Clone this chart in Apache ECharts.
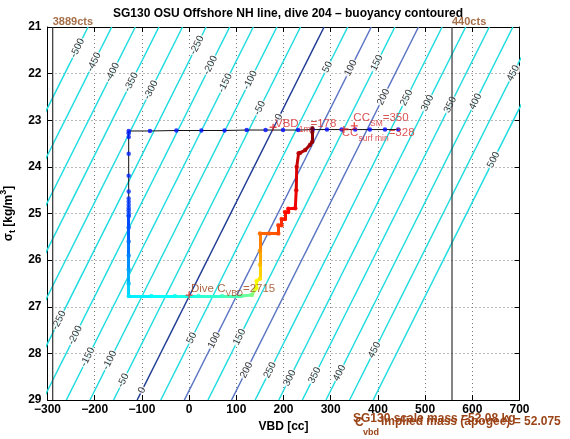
<!DOCTYPE html>
<html><head><meta charset="utf-8">
<script src="https://cdn.jsdelivr.net/npm/echarts@6/dist/echarts.min.js"></script>
<style>html,body{margin:0;padding:0;background:#fff}#c{width:570px;height:439px}</style>
</head><body><div id="c"></div>
<script>
// ---------------- data ----------------
const contourLevels = [-500,-450,-400,-350,-300,-250,-200,-150,-100,-50,0,50,100,150,200,250,300,350,400,450,500];
const contourVbdAtSigma21 = [-214,-164,-114,-64,-14,36,86,136,186,236,286,336,386,436,486,536,586,636,686,736,786];
const contourVbdAtSigma29 = [-610,-560,-510,-460,-410,-360,-310,-260,-210,-160,-110,-60,-10,40,90,140,190,240,290,340,390];

const labelLevels = [-500,-450,-400,-350,-300,-250,-200,-150,-100,-50,0,50,100,150,200,250,300,350,400,450,500,
                     -250,-200,-150,-100,-50,0,50,100,150,200,250,300,350,400,450];
const labelSigma  = [21.45,21.75,21.97,22.18,22.35,21.39,21.82,22.2,22.14,22.74,22.93,21.86,21.88,21.77,22.5,22.52,22.63,22.67,22.6,21.99,23.85,
                     27.29,27.61,28.08,28.15,28.58,28.79,27.67,27.72,27.65,28.36,28.36,28.53,28.47,28.42,27.93];

// descent: surface VBD pump then sinking at constant VBD (sparse samples)
const descentVbd    = [443,415,383,352,323,292,262,231,199,162,122,75,26,-27,-83,-128,-128,-128,-128,-128,-128,-128,-128,-128,-128,-128,-128,-128];
const descentSigma  = [23.2,23.2,23.2,23.2,23.2,23.2,23.2,23.21,23.21,23.21,23.21,23.22,23.22,23.22,23.23,23.23,23.28,23.36,23.72,24.19,24.53,24.68,24.75,24.82,24.88,24.93,24.99,25.05];
const descentColour = [0.13,0.13,0.13,0.13,0.13,0.13,0.13,0.135,0.135,0.135,0.135,0.14,0.14,0.14,0.14,0.145,0.15,0.15,0.155,0.16,0.17,0.175,0.175,0.18,0.18,0.185,0.185,0.19];

// dense part: deep descent, apogee pump and climb
const traceVbd    = [-128,-128,-128,-128,-128,-128,-128,-80,-30,20,70,110,133,140,143,143,150,150,150,150,170,189,189,196,196,203,203,210,210,225,227,228,232,235,246,256,261,261,261];
const traceSigma  = [25.05,25.3,25.6,25.9,26.2,26.5,26.77,26.77,26.77,26.77,26.77,26.77,26.75,26.62,26.6,26.45,26.4,26.1,25.8,25.43,25.43,25.43,25.25,25.25,25.12,25.12,24.97,24.97,24.9,24.89,24.5,24.0,23.71,23.7,23.64,23.53,23.46,23.25,23.17];
const traceColour = [0.19,0.205,0.225,0.25,0.28,0.31,0.35,0.37,0.39,0.41,0.435,0.46,0.49,0.58,0.61,0.63,0.65,0.69,0.73,0.77,0.785,0.8,0.82,0.83,0.84,0.85,0.86,0.87,0.875,0.885,0.9,0.92,0.94,0.945,0.955,0.965,0.975,0.99,1.0];

const countLines = [-289, 557];
const countLabels = ['3889cts', '440cts'];

const markerVbd   = [178, 350, 328, 0];
const markerSigma = [23.15, 23.12, 23.2, 26.75];

// ---------------- drawing ----------------
const FONT = '"Liberation Sans", Arial, Helvetica, sans-serif';
const RED = '#d6282a', BROWN = '#9a4418';
function jet(t){
  const c = v => Math.round(255*Math.max(0, Math.min(1, v)));
  return 'rgb(' + c(1.5-Math.abs(4*t-3)) + ',' + c(1.5-Math.abs(4*t-2)) + ',' + c(1.5-Math.abs(4*t-1)) + ')';
}
function contourColor(l){ if (l === 0) return '#1f3a94'; if (l === 100 || l === 200) return '#5a74c4'; return '#22dce0'; }

const series = [];
contourLevels.forEach((lv, i) => {
  series.push({type:'line', silent:true, symbol:'none', clip:true, z:1, animation:false,
    data:[[contourVbdAtSigma21[i],21],[contourVbdAtSigma29[i],29]],
    lineStyle:{color:contourColor(lv), width:1.5}});
});
const labelData = labelLevels.map((lv, k) => {
  const i = contourLevels.indexOf(lv);
  const s = labelSigma[k];
  const v = contourVbdAtSigma21[i] + (contourVbdAtSigma29[i]-contourVbdAtSigma21[i])*(s-21)/8;
  return [v, s, String(lv)];
});
series.push({type:'scatter', silent:true, z:3, symbolSize:0, data:labelData,
  label:{show:true, position:'inside', rotate:63.4, formatter:p=>p.value[2], fontSize:10, fontFamily:FONT,
    color:'#000', backgroundColor:'#fff', padding:[0,1]}});
// count lines
countLines.forEach((x, i) => {
  series.push({type:'line', silent:true, symbol:'none', z:4, data:[[x,21],[x,29]], lineStyle:{color:'#333', width:1.2}});
});
series.push({type:'scatter', silent:true, z:6, symbolSize:0,
  data: countLines.map((x,i)=>[x,21,countLabels[i]]),
  label:{show:true, position:'top', align:'left', distance:0, formatter:p=>p.value[2], color:'#8f4a1a', fontWeight:'bold', fontSize:11, fontFamily:FONT}});
// descent black line
const descLine = descentVbd.map((v,i)=>[v, descentSigma[i]]);
descLine.push([traceVbd[0], traceSigma[0]]);
series.push({type:'line', silent:true, symbol:'none', z:5, data:descLine, lineStyle:{color:'#111', width:1}});
// coloured trace
const segs = [];
for (let i = 0; i < traceVbd.length-1; i++) {
  segs.push({coords:[[traceVbd[i],traceSigma[i]],[traceVbd[i+1],traceSigma[i+1]]],
    lineStyle:{color: jet((traceColour[i]+traceColour[i+1])/2)}});
}
series.push({type:'lines', coordinateSystem:'cartesian2d', silent:true, z:6, data:segs,
  lineStyle:{width:3, opacity:1, cap:'round', join:'round'}});
// dots
const dots = descentVbd.map((v,i)=>[v, descentSigma[i], descentColour[i]])
  .concat(traceVbd.map((v,i)=>[v, traceSigma[i], traceColour[i]]));
series.push({type:'scatter', silent:true, z:7, symbolSize:4.5, data:dots,
  itemStyle:{color:p=>jet(p.value[2])}});
// + markers
series.push({type:'scatter', silent:true, z:8, symbol:'path://M4,0H6V4H10V6H6V10H4V6H0V4H4Z', symbolSize:7,
  data: markerVbd.map((v,i)=>[v, markerSigma[i]]), itemStyle:{color:'#e02020'}});
// annotations
const richRed = {m:{fontSize:11.5, fontFamily:FONT, color:RED, lineHeight:16, verticalAlign:'top'},
                 s:{fontSize:8.5, fontFamily:FONT, color:RED, lineHeight:16, verticalAlign:'bottom'}};
const richBrown = {m:{fontSize:11.5, fontFamily:FONT, color:BROWN, lineHeight:16, verticalAlign:'top'},
                   s:{fontSize:8.5, fontFamily:FONT, color:BROWN, lineHeight:16, verticalAlign:'bottom'}};
series.push({type:'scatter', silent:true, z:9, symbolSize:0,
  data:[
    {value:[182,23.13], label:{formatter:'{m|VBD}{s|1m}{m|=178}', rich:richRed}},
    {value:[348,23.0], label:{formatter:'{m|CC}{s|SM}{m|=350}', rich:richRed}},
    {value:[323.5,23.32], label:{formatter:'{m|CC}{s|surf min}{m|=328}', rich:richRed}},
    {value:[4,26.65], label:{formatter:'{m|Dive C}{s|VBD}{m|=2715}', rich:richBrown}}
  ],
  label:{show:true, position:'right', distance:0}});

const option = {
  animation:false,
  backgroundColor:'#fff',
  title:{text:'SG130 OSU Offshore NH line, dive 204 \u2013 buoyancy contoured', left:283, textAlign:'center', top:3,
    textStyle:{fontSize:12, fontWeight:'bold', fontFamily:FONT, color:'#000'}},
  grid:{left:47.5, right:50.5, top:27, bottom:39, outerBoundsMode:'none', containLabel:false},
  xAxis:[
    {type:'value', min:-300, max:700, interval:100, position:'bottom',
     axisLine:{onZero:false, lineStyle:{color:'#000', width:1}},
     axisTick:{inside:true, length:5, lineStyle:{color:'#000'}},
     axisLabel:{color:'#000', fontWeight:'bold', fontSize:12, fontFamily:FONT, margin:4, formatter:v=>String(v).replace('-','\u2212')},
     splitLine:{show:true, lineStyle:{color:'#777', type:[1,3], width:1}},
     name:'VBD [cc]', nameLocation:'middle', nameGap:21,
     nameTextStyle:{color:'#000', fontWeight:'bold', fontSize:12, fontFamily:FONT}},
    {type:'value', min:-300, max:700, interval:100, position:'top',
     axisLine:{onZero:false, lineStyle:{color:'#000', width:1}},
     axisTick:{inside:true, length:5, lineStyle:{color:'#000'}},
     axisLabel:{show:false}, splitLine:{show:false}}
  ],
  yAxis:[
    {type:'value', min:21, max:29, interval:1, inverse:true, position:'left',
     axisLine:{onZero:false, lineStyle:{color:'#000', width:1}},
     axisTick:{inside:true, length:5, lineStyle:{color:'#000'}},
     axisLabel:{color:'#000', fontWeight:'bold', fontSize:12, fontFamily:FONT, margin:6},
     splitLine:{show:true, lineStyle:{color:'#777', type:[1,3], width:1}},
     name:'{a|\u03c3}{b|t}{a| [kg/m}{c|3}{a|]}', nameLocation:'middle', nameGap:29, nameRotate:90,
     nameTextStyle:{color:'#000', rich:{
       a:{fontWeight:'bold', fontSize:12, fontFamily:FONT, color:'#000', lineHeight:18, verticalAlign:'middle'},
       b:{fontWeight:'bold', fontSize:9, fontFamily:FONT, color:'#000', lineHeight:18, verticalAlign:'bottom'},
       c:{fontWeight:'bold', fontSize:9, fontFamily:FONT, color:'#000', lineHeight:18, verticalAlign:'top'}}}},
    {type:'value', min:21, max:29, interval:1, inverse:true, position:'right',
     axisLine:{onZero:false, lineStyle:{color:'#000', width:1}},
     axisTick:{inside:true, length:5, lineStyle:{color:'#000'}},
     axisLabel:{show:false}, splitLine:{show:false}}
  ],
  graphic:[
    {type:'text', left:353, top:413, z:10, style:{text:'SG130 scale mass =52.08 kg', fill:BROWN, font:'bold 12px ' + FONT}},
    {type:'text', left:355, top:417, z:10, style:{text:'C', fill:BROWN, font:'bold 12px ' + FONT}},
    {type:'text', left:363, top:428, z:10, style:{text:'vbd', fill:BROWN, font:'bold 9px ' + FONT}},
    {type:'text', left:381, top:416, z:10, style:{text:'Implied mass (apogee) = 52.075', fill:BROWN, font:'bold 12px ' + FONT}}
  ],
  series:series
};
const chart = echarts.init(document.getElementById('c'));
chart.setOption(option);
</script>
</body></html>
